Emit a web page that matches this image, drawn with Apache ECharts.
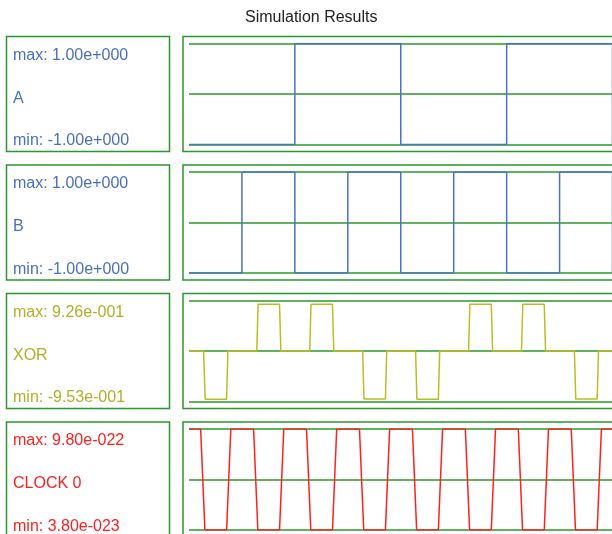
<!DOCTYPE html>
<html>
<head>
<meta charset="utf-8">
<script src="https://cdn.jsdelivr.net/npm/echarts@6/dist/echarts.min.js"></script>
<style>
html,body{margin:0;padding:0;background:#fff;}
#chart{width:612px;height:534px;}
</style>
</head>
<body>
<div id="chart"></div>
<script>
// ---- data ----
const titleText = 'Simulation Results';
const seriesNames = ['A', 'B', 'XOR', 'CLOCK 0'];
const maxLabels = ['1.00e+000', '1.00e+000', '9.26e-001', '9.80e-022'];
const minLabels = ['-1.00e+000', '-1.00e+000', '-9.53e-001', '3.80e-023'];
const axisMin = [-1, -1, -1, 3.80e-23];
const axisMax = [1, 1, 1, 9.80e-22];

const aTimes  = [0, 4, 4, 8, 8, 12, 12, 16, 16, 17];
const aValues = [-1, -1, 1, 1, -1, -1, 1, 1, -1, -1];

const bTimes  = [0, 2, 2, 4, 4, 6, 6, 8, 8, 10, 10, 12, 12, 14, 14, 16, 16, 17];
const bValues = [-1, -1, 1, 1, -1, -1, 1, 1, -1, -1, 1, 1, -1, -1, 1, 1, -1, -1];

const xorTimes = [0, 0.55, 0.61, 1.42, 1.47,
                  2.56, 2.61, 3.42, 3.47,
                  4.56, 4.61, 5.42, 5.47,
                  6.56, 6.61, 7.42, 7.47,
                  8.56, 8.61, 9.42, 9.47,
                  10.56, 10.61, 11.42, 11.47,
                  12.56, 12.61, 13.42, 13.47,
                  14.56, 14.61, 15.42, 15.47,
                  16.56, 16.61, 17];
const xorValues = [0, 0, -0.953, -0.953, 0,
                   0, 0.926, 0.926, 0,
                   0, 0.924, 0.924, 0,
                   0, -0.95, -0.95, 0,
                   0, -0.953, -0.953, 0,
                   0, 0.926, 0.926, 0,
                   0, 0.924, 0.924, 0,
                   0, -0.95, -0.95, 0,
                   0, -0.953, -0.953];

const clkTimes = [0, 0.44, 0.6, 1.42, 1.58, 2.44, 2.6, 3.42, 3.58, 4.44, 4.6, 5.42, 5.58,
                  6.44, 6.6, 7.42, 7.58, 8.44, 8.6, 9.42, 9.58, 10.44, 10.6, 11.42, 11.58,
                  12.44, 12.6, 13.42, 13.58, 14.44, 14.6, 15.42, 15.58, 16.44, 16.6, 17];
const clkValues = [9.80e-22, 9.80e-22, 3.80e-23, 3.80e-23, 9.80e-22, 9.80e-22, 3.80e-23, 3.80e-23, 9.80e-22,
                   9.80e-22, 3.80e-23, 3.80e-23, 9.80e-22, 9.80e-22, 3.80e-23, 3.80e-23, 9.80e-22,
                   9.80e-22, 3.80e-23, 3.80e-23, 9.80e-22, 9.80e-22, 3.80e-23, 3.80e-23, 9.80e-22,
                   9.80e-22, 3.80e-23, 3.80e-23, 9.80e-22, 9.80e-22, 3.80e-23, 3.80e-23, 9.80e-22,
                   9.80e-22, 3.80e-23, 3.80e-23];

const timeMin = 0;
const timeMax = 17;

// ---- styling / layout ----
const allTimes = [aTimes, bTimes, xorTimes, clkTimes];
const allValues = [aValues, bValues, xorValues, clkValues];
const lineColors = ['#4a72c8', '#4a72c8', '#bcbd22', '#ff1f1f'];
const textColors = ['#4a6fc0', '#4a6fc0', '#b0b028', '#ff1f1f'];
const green = '#2b982b';
const font = '"Liberation Sans", Arial, Helvetica, sans-serif';
const panelTops = [36.5, 165, 293.5, 422];
const boxH = 115;

const chart = echarts.init(document.getElementById('chart'), null, {renderer: 'canvas'});

const grids = [], xAxes = [], yAxes = [], series = [], graphics = [];

graphics.push({
  type: 'text', left: 245, top: 10,
  style: { text: titleText, font: '16px ' + font, fill: '#222' }
});

panelTops.forEach((pt, i) => {
  grids.push({ left: 189, top: pt + 7, width: 450, height: 101, containLabel: false, outerBoundsMode: 'none' });
  xAxes.push({
    type: 'value', gridIndex: i, min: timeMin, max: timeMax,
    show: false
  });
  // frame axis: draws the three green horizontal lines
  yAxes.push({
    type: 'value', gridIndex: i, min: -1, max: 1, interval: 1,
    axisLine: { show: false }, axisTick: { show: false }, axisLabel: { show: false },
    splitLine: { show: true, lineStyle: { color: green, width: 1.5 } }
  });
  // data axis
  yAxes.push({
    type: 'value', gridIndex: i, min: axisMin[i], max: axisMax[i],
    show: false, splitLine: { show: false }
  });
  series.push({
    type: 'line', name: seriesNames[i],
    xAxisIndex: i, yAxisIndex: 2 * i + 1,
    data: allTimes[i].map((t, k) => [t, allValues[i][k]]),
    showSymbol: false, symbol: 'none', z: 5,
    lineStyle: { color: lineColors[i], width: 1.5 },
    itemStyle: { color: lineColors[i] },
    animation: false
  });
  // boxes
  graphics.push({
    type: 'rect', shape: { x: 6.5, y: pt, width: 163, height: boxH },
    style: { fill: 'none', stroke: green, lineWidth: 1.5 }, z: 1
  });
  graphics.push({
    type: 'rect', shape: { x: 183, y: pt, width: 480, height: boxH },
    style: { fill: 'none', stroke: green, lineWidth: 1.5 }, z: 1
  });
  const txt = (s, y) => ({
    type: 'text', x: 13, y: pt + y,
    style: { text: s, font: '16px ' + font, fill: textColors[i], textVerticalAlign: 'middle', verticalAlign: 'middle' }
  });
  graphics.push(txt('max: ' + maxLabels[i], 19));
  graphics.push(txt(seriesNames[i], 62));
  graphics.push(txt('min: ' + minLabels[i], 104.5));
});

chart.setOption({
  animation: false,
  backgroundColor: '#fff',
  grid: grids,
  xAxis: xAxes,
  yAxis: yAxes,
  series: series,
  graphic: graphics
});
</script>
</body>
</html>
